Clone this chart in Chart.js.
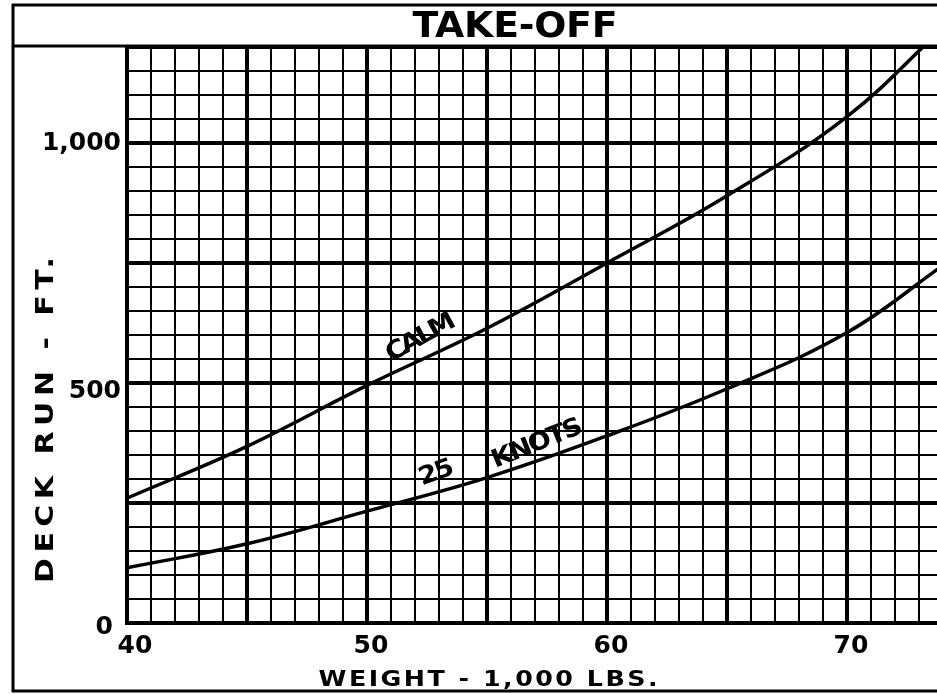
<!DOCTYPE html>
<html>
<head>
<meta charset="utf-8">
<script src="https://cdn.jsdelivr.net/npm/chart.js@4.4.1/dist/chart.umd.min.js"></script>
<style>
  body { margin: 0; background: #fff; }
  #wrap { width: 937px; height: 694px; overflow: hidden; }
</style>
</head>
<body>
<div id="wrap"><canvas id="chart" width="950" height="694"></canvas></div>
<script>
// values (weight in 1,000 lbs, deck run in ft)
const weights = [40, 45, 50, 55, 60, 65, 70, 74];
const calmRun = [260, 368, 495, 614, 750, 890, 1055, 1240];
const knots25Run = [115, 165, 233, 303, 390, 488, 605, 745];

const xTickLabels = [40, 50, 60, 70];
const yTickLabels = [0, 500, 1000];

const FONT = '"DejaVu Sans", sans-serif';

function toPoints(xs, ys) {
    return xs.map((x, i) => ({ x: x, y: ys[i] }));
}

// draw text stretched to a given width (wider letters + letter spacing)
function spacedText(ctx, text, cx, cy, size, width, angle, stretch) {
    stretch = stretch || 1;
    ctx.save();
    ctx.font = "bold " + size + "px " + FONT;
    ctx.letterSpacing = "0px";
    let w0 = ctx.measureText(text).width;
    let sp = (width / stretch - w0) / (text.length - 1);
    ctx.letterSpacing = sp + "px";
    ctx.translate(cx, cy);
    ctx.rotate((angle || 0) * Math.PI / 180);
    ctx.scale(stretch, 1);
    ctx.textAlign = "center";
    ctx.textBaseline = "middle";
    ctx.fillStyle = "#000";
    ctx.fillText(text, sp / 2, 0);
    ctx.restore();
}

function line(ctx, x1, y1, x2, y2, w) {
    ctx.beginPath();
    ctx.lineWidth = w;
    ctx.moveTo(x1, y1);
    ctx.lineTo(x2, y2);
    ctx.stroke();
}

const framePlugin = {
    id: "frame",
    beforeDraw(chart) {
        const ctx = chart.ctx;
        ctx.save();
        ctx.fillStyle = "#fff";
        ctx.fillRect(0, 0, chart.width, chart.height);
        ctx.strokeStyle = "#000";
        line(ctx, 13, 4, 13, 692, 3);
        line(ctx, 12, 5, 950, 5, 3);
        line(ctx, 12, 691, 950, 691, 3);
        line(ctx, 12, 46, 950, 46, 3);
        ctx.restore();
    },
    afterDraw(chart) {
        const ctx = chart.ctx;
        const xs = chart.scales.x, ys = chart.scales.y;

        spacedText(ctx, "TAKE-OFF", 515, 28, 36, 205, 0, 1.05);
        spacedText(ctx, "DECK RUN - FT.", 46, 420, 25, 326, -90, 1.2);
        spacedText(ctx, "WEIGHT - 1,000 LBS.", 488, 680, 22, 339, 0, 1.15);

        // axis numbers
        ctx.save();
        ctx.fillStyle = "#000";
        ctx.font = "bold 25px " + FONT;
        ctx.textBaseline = "middle";
        ctx.textAlign = "right";
        yTickLabels.forEach(v => {
            let txt = v === 1000 ? "1,000" : String(v);
            let py = ys.getPixelForValue(v);
            if (v === 0) ctx.fillText(txt, 113, py + 4);
            else if (v === 500) ctx.fillText(txt, 121, py + 8);
            else ctx.fillText(txt, 121, py);
        });
        ctx.textAlign = "center";
        xTickLabels.forEach(v => {
            let px = xs.getPixelForValue(v) + (v === 40 ? 8 : 4);
            ctx.fillText(String(v), px, 646);
        });
        ctx.restore();

        // curve labels
        spacedText(ctx, "CALM", xs.getPixelForValue(52.25), ys.getPixelForValue(594), 25, 76, -29, 1.1);
        spacedText(ctx, "25", xs.getPixelForValue(52.9), ys.getPixelForValue(312), 25, 36, -20, 1.1);
        spacedText(ctx, "KNOTS", xs.getPixelForValue(57.1), ys.getPixelForValue(373), 25, 96, -22, 1.1);
    }
};

const ctx = document.getElementById("chart").getContext("2d");

new Chart(ctx, {
    type: "line",
    data: {
        datasets: [
            {
                label: "Calm",
                data: toPoints(weights, calmRun),
                borderColor: "#000",
                borderWidth: 3.5,
                pointRadius: 0,
                tension: 0.4,
                fill: false
            },
            {
                label: "25 Knots",
                data: toPoints(weights, knots25Run),
                borderColor: "#000",
                borderWidth: 3.5,
                pointRadius: 0,
                tension: 0.4,
                fill: false
            }
        ]
    },
    options: {
        responsive: false,
        animation: false,
        devicePixelRatio: 1,
        layout: { padding: { left: 127, top: 47, right: 1, bottom: 71 } },
        plugins: {
            legend: { display: false },
            tooltip: { enabled: false },
            title: { display: false }
        },
        scales: {
            x: {
                type: "linear",
                min: 40,
                max: 74.25,
                ticks: { display: false, stepSize: 1 },
                grid: {
                    color: "#000",
                    drawTicks: false,
                    lineWidth: c => (c.tick && c.tick.value % 5 === 0) ? 4 : 2
                },
                border: { display: true, color: "#000", width: 4 }
            },
            y: {
                min: 0,
                max: 1200,
                ticks: { display: false, stepSize: 50 },
                grid: {
                    color: "#000",
                    drawTicks: false,
                    lineWidth: c => (c.tick && c.tick.value % 250 === 0) ? 4 : (c.tick && c.tick.value === 1200 ? 3 : 2)
                },
                border: { display: true, color: "#000", width: 4 }
            }
        }
    },
    plugins: [framePlugin]
});
</script>
</body>
</html>
